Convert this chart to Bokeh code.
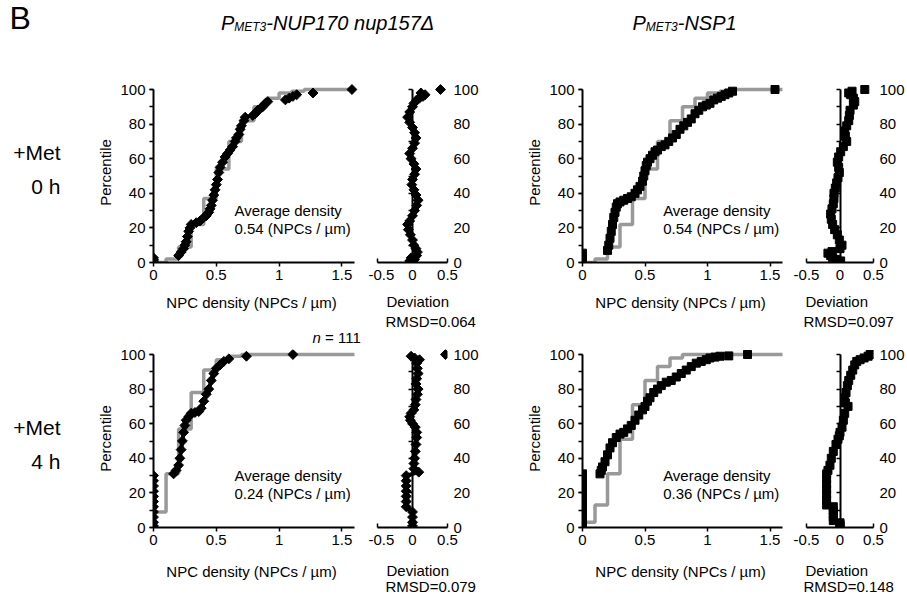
import math
from bokeh.plotting import figure
from bokeh.models import Range1d, FixedTicker, LinearAxis, Label
from bokeh.layouts import row, column
from bokeh.embed import file_html
from bokeh.resources import INLINE

NAN = float("nan")

# ---------------- data ----------------
cdf_xticks = [0, 0.5, 1.0, 1.5]
cdf_xlabels = ["0", "0.5", "1", "1.5"]
dev_xticks = [-0.5, 0, 0.5]
dev_xlabels = ["-0.5", "0", "0.5"]
pct_major = [0, 20, 40, 60, 80, 100]
pct_minor = [0, 10, 20, 30, 40, 50, 60, 70, 80, 90, 100]

# expected (gray) step CDFs
gray_x_054 = [0.0, 0.1, 0.2, 0.3, 0.4, 0.5, 0.6, 0.7, 0.8, 0.9, 1.0, 1.1, 1.2, 1.6]
gray_p_054 = [0, 2, 9, 22, 37, 54, 70, 82, 90, 95, 98, 99, 100, 100]
gray_x_024 = [0.0, 0.0, 0.1, 0.2, 0.3, 0.4, 0.5, 0.6, 0.7, 1.6]
gray_p_024 = [0, 9, 31, 57, 78, 91, 97, 99, 100, 100]
gray_x_036 = [0.0, 0.0, 0.1, 0.2, 0.3, 0.4, 0.5, 0.6, 0.7, 0.8, 1.6]
gray_p_036 = [0, 3, 13, 31, 51, 71, 85, 93, 98, 100, 100]

# observed CDFs (density, percentile); NaN = gap
cdf1_x = [0, 0, 0, NAN,
          0.20, 0.22, 0.24, 0.25, 0.26, 0.27, 0.28, 0.29, 0.30, NAN,
          0.34, 0.37, 0.40, 0.42, 0.44, 0.45, 0.46, 0.47, 0.48, 0.49, 0.50, 0.51, 0.52, 0.53,
          0.55, 0.57, 0.59, 0.61, 0.63, 0.65, 0.66, 0.68, 0.69, 0.70, 0.72, 0.73, NAN,
          0.79, 0.81, 0.83, 0.85, 0.87, 0.89, 0.91, NAN,
          1.05, 1.08, 1.11, 1.14, NAN,
          1.27, NAN, 1.58]
cdf1_p = [0.9, 1.8, 2.7, NAN,
          4, 6, 8, 10, 12, 15, 18, 20, 22, NAN,
          23, 24, 26, 27, 29, 31, 33, 36, 39, 42, 45, 48, 52, 55,
          58, 61, 63, 65, 67, 70, 72, 74, 77, 79, 82, 84, NAN,
          85, 86, 88, 89, 90, 92, 93, NAN,
          94, 95, 96, 97, NAN,
          98, NAN, 100]

cdf2_x = [0, 0, 0, 0, 0, 0, NAN,
          0.20, 0.21, 0.22, 0.23, 0.24, 0.25, 0.26, 0.27, 0.28, 0.30, 0.33, 0.36, 0.39, 0.42,
          0.44, 0.46, 0.48, 0.49, 0.50, 0.51, 0.52, 0.54, 0.56, 0.58, 0.60, 0.63, 0.66, 0.69,
          0.72, 0.75, 0.78, 0.81, 0.84, 0.87, 0.90, 0.93, 0.96, 0.99, 1.02, 1.05, 1.08, 1.11,
          1.14, 1.17, 1.20, NAN,
          1.54]
cdf2_p = [0.9, 1.8, 2.7, 3.6, 4.5, 5.4, NAN,
          7, 10, 14, 18, 22, 26, 29, 32, 34, 35, 36, 37, 38, 40,
          42, 44, 47, 50, 53, 56, 58, 60, 62, 64, 65, 67, 68, 70,
          72, 74, 77, 79, 81, 83, 86, 88, 90, 91, 92, 94, 95, 96,
          97, 98, 99, NAN,
          100]

cdf3_x = [0, 0, 0, 0, 0, 0, 0, 0, 0, 0, 0, NAN,
          0.16, 0.18, 0.20, 0.21, 0.22, 0.23, 0.24, 0.25, 0.26, 0.28, 0.30, 0.33, 0.36, 0.38,
          0.40, 0.42, 0.44, 0.46, 0.48, 0.50, 0.53, 0.56, 0.60, NAN,
          0.74, NAN, 1.11]
cdf3_p = [0.9, 3, 6, 9, 12, 15, 18, 21, 24, 27, 30, NAN,
          31, 33, 36, 40, 45, 50, 55, 59, 62, 64, 66, 66.5, 67, 69,
          73, 77, 80, 85, 89, 92, 94, 96, 97.5, NAN,
          99, NAN, 100]

cdf4_x = [0, 0, 0, 0, 0, 0, 0, 0, 0, 0, 0, NAN,
          0.14, 0.15, 0.16, 0.18, 0.20, 0.22, 0.24, 0.27, 0.30, 0.33, 0.36, 0.39, 0.42, 0.45,
          0.48, 0.50, 0.52, 0.54, 0.57, 0.60, 0.63, 0.67, 0.71, 0.75, 0.79, 0.83, 0.87, 0.91,
          0.95, 0.99, 1.02, 1.06, 1.10, NAN,
          1.17, NAN, 1.32]
cdf4_p = [0.9, 4, 7, 10, 13, 16, 19, 22, 25, 28, 31, NAN,
          31, 33, 35, 38, 42, 46, 49, 52, 54, 55, 57, 59, 62, 65,
          68, 70, 73, 75, 78, 80, 82, 84, 85, 87, 89, 91, 93, 95,
          96, 97, 98, 98.5, 99, NAN,
          99.2, NAN, 100]

# deviations (deviation, percentile)
dev1_p = [0.9, 1.8, 2.7, 4, 6, 8, 10, 13, 16, 19, 22, 24, 27, 30, 33, 36, 39, 42, 45, 48,
          51, 54, 57, 60, 63, 66, 69, 72, 75, 78, 81, 84, 87, 90, 92, 94, 95, 96, 97, 98, NAN, 100]
dev1_d = [-0.04, 0.03, -0.02, 0.06, 0.07, 0.05, 0.02, 0.0, -0.03, -0.06, -0.07, -0.04, 0.0, 0.03,
          0.06, 0.08, 0.05, 0.02, -0.01, 0.0, 0.03, 0.05, 0.02, -0.02, -0.04, 0.0, 0.03, 0.05,
          0.03, 0.0, -0.04, -0.07, -0.04, 0.0, 0.02, 0.06, 0.10, 0.15, 0.18, 0.12, NAN, 0.40]

dev2_p = [0.9, 1.8, 2.7, 4, 5.4, 6.3, 8, 10, 13, 16, 19, 22, 25, 28, 31, 34, 37, 40, 43, 46,
          49, 52, 55, 58, 61, 64, 67, 70, 73, 76, 79, 82, 85, 88, 91, 93, 95, 97, 98, 99, NAN, 100]
dev2_d = [0.01, -0.05, -0.11, -0.14, -0.18, -0.12, 0.0, 0.03, -0.01, -0.04, -0.08, -0.11, -0.13,
          -0.14, -0.12, -0.10, -0.09, -0.09, -0.07, -0.05, -0.03, -0.01, -0.02, -0.04, -0.02,
          0.01, 0.05, 0.10, 0.08, 0.07, 0.10, 0.13, 0.14, 0.15, 0.20, 0.22, 0.20, 0.16, 0.13,
          0.18, NAN, 0.37]

dev3_p = [0.9, 3, 6, 9, 12, 15, 18, 21, 24, 27, 30, 32, 34, 37, 40, 44, 48, 52, 55, 58,
          60, 62, 64, 66, 68, 71, 74, 77, 80, 83, 86, 89, 92, 95, 97, 98, 99, NAN, 100]
dev3_d = [0.0, 0.0, 0.0, 0.0, -0.09, -0.09, -0.09, -0.09, -0.09, -0.09, -0.09, 0.09, 0.02, 0.02,
          0.03, 0.04, 0.05, 0.06, 0.06, 0.04, 0.0, -0.03, -0.04, -0.02, 0.02, 0.04, 0.05, 0.07,
          0.08, 0.05, 0.06, 0.08, 0.07, 0.06, 0.10, 0.03, -0.02, NAN, 0.47]

dev4_p = [0.9, 1.8, 2.7, 4, 6, 8, 10, 12, 13, 16, 19, 22, 25, 28, 31, 33, 36, 40, 44, 48,
          51, 53, 55, 58, 62, 66, 70, 72, 75, 78, 82, 85, 88, 91, 94, 96, 97, 98, 99, 100]
dev4_d = [0.0, 0.0, 0.0, -0.1, -0.1, -0.1, -0.1, -0.1, -0.2, -0.2, -0.2, -0.2, -0.2, -0.2,
          -0.2, -0.18, -0.15, -0.13, -0.10, -0.06, -0.03, -0.01, 0.0, 0.03, 0.05, 0.07, 0.12,
          0.08, 0.07, 0.09, 0.11, 0.13, 0.16, 0.19, 0.22, 0.25, 0.30, 0.36, 0.42, 0.45]

avg_texts = ["0.54 (NPCs / \u00b5m)", "0.54 (NPCs / \u00b5m)", "0.24 (NPCs / \u00b5m)", "0.36 (NPCs / \u00b5m)"]
rmsd_texts = ["RMSD=0.064", "RMSD=0.097", "RMSD=0.079", "RMSD=0.148"]
x_title = "NPC density (NPCs / \u00b5m)"

# ---------------- styling / layout (page pixels) ----------------
FONT = "Liberation Sans"
BLACK = "#000000"
GRAY = "#999999"
FS = "15px"
PPU_Y = 1.73

ROWS = {
    1: dict(y0=45, h=245, zero=262.0, top=37, bottom=28),
    2: dict(y0=346, h=212, zero=527.0, top=3, bottom=31),
}
COLS = {
    "cdf_l": dict(x0=80, w=288, left=73, right=6),
    "dev_l": dict(x0=368, w=132, left=9, right=53),
    "cdf_r": dict(x0=500, w=290, left=82, right=0),
    "dev_r": dict(x0=790, w=117, left=16, right=31),
}
CDF_XMAX = 1.664


def yr(r):
    return Range1d(0, (r["zero"] - (r["y0"] + r["top"])) / PPU_Y)


def base_fig(c, r, x_range):
    p = figure(width=c["w"], height=r["h"], x_range=x_range, y_range=yr(r),
               output_backend="svg", toolbar_location=None, tools="",
               min_border_left=c["left"], min_border_right=c["right"],
               min_border_top=r["top"], min_border_bottom=r["bottom"])
    p.outline_line_color = None
    p.grid.visible = False
    p.background_fill_color = "white"
    p.border_fill_color = "white"
    return p


def style_axis(ax):
    ax.axis_line_color = BLACK
    ax.axis_line_width = 2
    ax.major_tick_line_color = BLACK
    ax.major_tick_line_width = 1.5
    ax.minor_tick_line_color = BLACK
    ax.minor_tick_line_width = 1.5
    ax.major_label_text_font = FONT
    ax.major_label_text_font_size = FS
    ax.major_label_text_color = BLACK
    ax.axis_label_text_font = FONT
    ax.axis_label_text_font_size = FS
    ax.axis_label_text_font_style = "normal"
    ax.axis_label_text_color = BLACK


def add_label(p, x, y, text, size=FS, align="left", style="normal"):
    p.add_layout(Label(x=x, y=y, text=text, text_font=FONT, text_font_size=size,
                       text_align=align, text_baseline="middle", text_font_style=style,
                       text_color=BLACK))


def add_markers(p, xs, ys, kind):
    if kind == "diamond":
        p.scatter(xs, ys, marker="square", angle=math.pi / 4, size=7,
                  fill_color=BLACK, line_color=BLACK)
    else:
        p.scatter(xs, ys, marker="square", size=8, fill_color=BLACK, line_color=BLACK)


def cdf_panel(ck, rk, gx, gp, ox, op, kind, avg_text):
    c, r = COLS[ck], ROWS[rk]
    p = base_fig(c, r, Range1d(0, CDF_XMAX))
    p.step(gx, gp, mode="after", line_color=GRAY, line_width=3.5)
    p.line(ox, op, line_color=BLACK, line_width=4)
    add_markers(p, ox, op, kind)

    xa = p.xaxis[0]
    style_axis(xa)
    xa.bounds = (0, 1.6)
    xa.ticker = FixedTicker(ticks=cdf_xticks, minor_ticks=[])
    xa.major_label_overrides = dict(zip(cdf_xticks, cdf_xlabels))
    xa.major_tick_out = 4
    xa.major_tick_in = 0
    xa.minor_tick_out = 0
    xa.minor_tick_in = 0
    xa.major_label_standoff = 3

    ya = p.yaxis[0]
    style_axis(ya)
    ya.bounds = (0, 100)
    ya.ticker = FixedTicker(ticks=pct_major, minor_ticks=pct_minor)
    ya.major_tick_out = 4
    ya.major_tick_in = 0
    ya.minor_tick_out = 4
    ya.minor_tick_in = 0
    ya.major_label_standoff = 4
    ya.axis_label = "Percentile"
    ya.axis_label_standoff = 3

    add_label(p, 0.645, 30, "Average density")
    add_label(p, 0.645, 19.5, avg_text)
    return p


def dev_panel(ck, rk, dd, dp, kind):
    c, r = COLS[ck], ROWS[rk]
    p = base_fig(c, r, Range1d(-0.5, 0.5))
    p.line(dd, dp, line_color=BLACK, line_width=4)
    add_markers(p, dd, dp, kind)

    xa = p.xaxis[0]
    style_axis(xa)
    xa.bounds = (-0.5, 0.5)
    xa.ticker = FixedTicker(ticks=dev_xticks, minor_ticks=[])
    xa.major_label_overrides = dict(zip(dev_xticks, dev_xlabels))
    xa.major_tick_out = 0
    xa.major_tick_in = 4
    xa.minor_tick_out = 0
    xa.minor_tick_in = 0
    xa.major_label_standoff = 7

    # vertical zero line with ticks (Excel style: axis crosses at 0), no labels of its own
    ya = p.yaxis[0]
    style_axis(ya)
    ya.fixed_location = 0
    ya.bounds = (0, 100)
    ya.ticker = FixedTicker(ticks=pct_minor, minor_ticks=[])
    ya.major_tick_out = 4
    ya.major_tick_in = 0
    ya.minor_tick_out = 0
    ya.minor_tick_in = 0
    ya.major_label_overrides = {t: "" for t in pct_minor}
    ya.major_label_text_color = None
    ya.major_label_standoff = 0

    # percentile labels on the right side of the panel
    ra = LinearAxis(ticker=FixedTicker(ticks=pct_major, minor_ticks=[]))
    style_axis(ra)
    ra.axis_line_color = None
    ra.major_tick_line_color = None
    ra.minor_tick_line_color = None
    ra.major_tick_out = 0
    ra.major_tick_in = 0
    ra.minor_tick_out = 0
    ra.minor_tick_in = 0
    ra.major_label_standoff = 6
    p.add_layout(ra, "right")
    return p


def text_fig(x0, y0, w, h, top=0, bottom=0):
    # a plain text canvas whose data units are page pixels (y grows downward)
    f = figure(width=w, height=h, x_range=Range1d(x0, x0 + w),
               y_range=Range1d(y0 + h - bottom, y0 + top),
               x_axis_location=None, y_axis_location=None, output_backend="svg",
               toolbar_location=None, tools="", min_border=0,
               min_border_top=top, min_border_bottom=bottom)
    f.outline_line_color = None
    f.grid.visible = False
    return f


c1 = cdf_panel("cdf_l", 1, gray_x_054, gray_p_054, cdf1_x, cdf1_p, "diamond", avg_texts[0])
d1 = dev_panel("dev_l", 1, dev1_d, dev1_p, "diamond")
c2 = cdf_panel("cdf_r", 1, gray_x_054, gray_p_054, cdf2_x, cdf2_p, "square", avg_texts[1])
d2 = dev_panel("dev_r", 1, dev2_d, dev2_p, "square")
c3 = cdf_panel("cdf_l", 2, gray_x_024, gray_p_024, cdf3_x, cdf3_p, "diamond", avg_texts[2])
d3 = dev_panel("dev_l", 2, dev3_d, dev3_p, "diamond")
c4 = cdf_panel("cdf_r", 2, gray_x_036, gray_p_036, cdf4_x, cdf4_p, "square", avg_texts[3])
d4 = dev_panel("dev_r", 2, dev4_d, dev4_p, "square")

# row labels (frames of a row are aligned, so give the text column the same borders)
R1, R2 = ROWS[1], ROWS[2]
lab1 = text_fig(0, R1["y0"], 80, R1["h"], R1["top"], R1["bottom"])
add_label(lab1, 60, 152, "+Met", size="21px", align="right")
add_label(lab1, 60, 186, "0 h", size="21px", align="right")
lab2 = text_fig(0, R2["y0"], 80, R2["h"], R2["top"], R2["bottom"])
add_label(lab2, 60, 427, "+Met", size="21px", align="right")
add_label(lab2, 60, 461, "4 h", size="21px", align="right")

# text band under row 1 (axis titles, deviation / RMSD, sample size)
band1 = text_fig(0, 290, 907, 56)
add_label(band1, 251, 302, x_title, align="center")
add_label(band1, 680, 302, x_title, align="center")
add_label(band1, 386, 301, "Deviation")
add_label(band1, 385, 321, rmsd_texts[0])
add_label(band1, 805, 301, "Deviation")
add_label(band1, 803, 321, rmsd_texts[1])
add_label(band1, 312, 337, "n", style="italic")
add_label(band1, 324.5, 337, "= 111")

# text band under row 2
band2 = text_fig(0, 558, 907, 38)
add_label(band2, 251, 571, x_title, align="center")
add_label(band2, 680, 571, x_title, align="center")
add_label(band2, 386, 570, "Deviation")
add_label(band2, 385, 586, rmsd_texts[2])
add_label(band2, 805, 570, "Deviation")
add_label(band2, 803, 586, rmsd_texts[3])

# ---------------- header ----------------
hdr = text_fig(0, 0, 907, 45)

AW = {'P': 667, 'M': 833, 'E': 667, 'T': 611, '3': 556, '-': 333, 'N': 722, 'U': 722,
      '1': 556, '7': 556, '0': 556, ' ': 278, 'n': 556, 'u': 556, 'p': 556, '5': 556,
      'S': 667, '\u0394': 668}


def tw(s, size):
    return sum(AW.get(ch, 556) for ch in s) * size / 1000.0


def title_chain(center_x, rest):
    segs = [("P", 20, 0), ("MET3", 12, 4.5), (rest, 20, 0)]
    total = sum(tw(s, sz) for s, sz, _ in segs)
    x = center_x - total / 2
    for s, sz, dy in segs:
        add_label(hdr, x, 22 + dy, s, size="%dpx" % sz, style="italic")
        x += tw(s, sz)


add_label(hdr, 9, 17, "B", size="32px")
title_chain(327, "-NUP170 nup157\u0394")
title_chain(684, "-NSP1")

layout = column(hdr,
                row(lab1, c1, d1, c2, d2),
                band1,
                row(lab2, c3, d3, c4, d4),
                band2)

open("out.html", "w").write(file_html(layout, INLINE))
